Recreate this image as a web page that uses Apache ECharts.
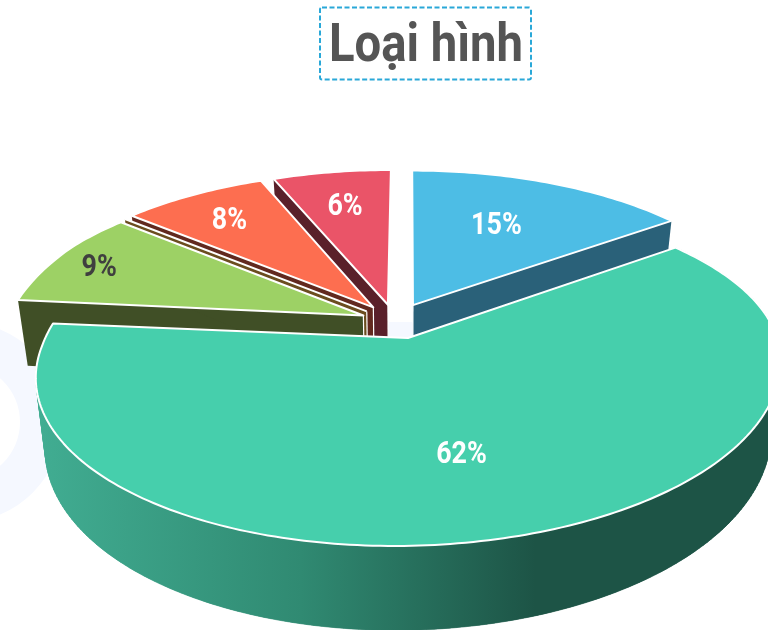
<!DOCTYPE html>
<html>
<head>
<meta charset="utf-8">
<style>
  html, body { margin: 0; padding: 0; background: #fff; }
  #main { width: 768px; height: 630px; }
</style>
<script src="https://cdn.jsdelivr.net/npm/echarts@6/dist/echarts.min.js"></script>
</head>
<body>
<div id="main"></div>
<script>
var chartTitle = 'Loại hình';
// clockwise from 12 o'clock; the 0 is the empty slice whose cut face shows as the brown stripe
var sliceNames = ['A', 'B', 'C', 'D', 'E', 'F'];
var sliceValues = [15, 62, 9, 0, 7.7, 6.3];

// look of each slice, same order as sliceValues
var topColors = ['#4dbde5', '#46cfac', '#9dd165', '#8c6a2a', '#fd6e50', '#ea5468'];
var wallColors = ['#2a6179', null, '#404f26', '#6b4d1f', '#62291f', '#5a202a'];
var labelColors = ['#fff', '#fff', '#3f3f3f', '#fff', '#fff', '#fff'];
var explodeU = [0.014, 0, -0.125, -0.116, -0.098, -0.057];
var explodeV = [0.2, 0, 0.14, 0.165, 0.19, 0.205];
var labelRadius = [0.6, 0.63, 0.85, 0, 0.8, 0.75];
var labelShiftX = [-4, -11, -4, 0, 4, 1];
var labelShiftY = [-2, 2, 3, 0, 6, 5];
// back slices first, the big one last
var paintOrder = [0, 5, 4, 3, 2, 1];

// pie projection: camera looks down, back of the disc gets smaller
var cx = 408, cy = 338, radiusX = 366, radiusY = 170, persp = 0.182;
var depth = 69, bottomScale = 0.975, tilt = 8;

function project(u, v, bottom) {
  var s = 1 / (1 + persp * v);
  // front of the disc leans a little, left side lower than right
  var lean = -tilt * u * Math.max(0, Math.min(1, (0.6 - v) / 0.6));
  return [
    cx + radiusX * u * s * (bottom ? bottomScale : 1),
    cy - radiusY * v * s + lean + (bottom ? depth * s : 0)
  ];
}

function arcPoints(i, from, to, bottom) {
  var pts = [];
  var n = Math.max(1, Math.ceil(Math.abs(to - from)));
  for (var k = 0; k <= n; k++) {
    var a = (from + (to - from) * k / n) * Math.PI / 180;
    pts.push(project(Math.sin(a) + explodeU[i], Math.cos(a) + explodeV[i], bottom));
  }
  return pts;
}

var total = sliceValues.reduce(function (a, b) { return a + b; }, 0);
var startAngles = [];
sliceValues.reduce(function (sum, v, i) {
  startAngles[i] = sum / total * 360;
  return sum + v;
}, 0);

var mainWall = {
  type: 'linear', x: 37, y: 0, x2: 770, y2: 0, global: true,
  colorStops: [
    { offset: 0, color: '#41ad92' },
    { offset: 0.36, color: '#308a72' },
    { offset: 0.68, color: '#1d5446' },
    { offset: 1, color: '#1d5446' }
  ]
};

function renderSlice(params, api) {
  var i = params.dataIndex;
  var value = api.value(1);
  var from = startAngles[i];
  var to = from + value / total * 360;
  var z = paintOrder.indexOf(i) * 10;
  var wallFill = wallColors[i] || mainWall;
  var wallStyle = { fill: wallFill };
  var apexTop = project(explodeU[i], explodeV[i], false);
  var apexBottom = project(explodeU[i], explodeV[i], true);

  function face(a) {
    var t = arcPoints(i, a, a, false)[0];
    var b = arcPoints(i, a, a, true)[0];
    return { type: 'polygon', z2: z + 1, shape: { points: [apexTop, t, b, apexBottom] }, style: wallStyle };
  }

  var children = [];
  if (i === 1) {
    // only the front slice shows its outer wall
    // strips give the silhouette at the sides, the whole outline on top hides their seams
    var topArc = arcPoints(i, from, to, false);
    var bottomArc = arcPoints(i, from, to, true);
    for (var k = 0; k < topArc.length - 1; k++) {
      children.push({
        type: 'polygon', z2: z,
        shape: { points: [topArc[k], topArc[k + 1], bottomArc[k + 1], bottomArc[k]] },
        style: { fill: wallFill, stroke: wallFill, lineWidth: 0.6 }
      });
    }
    children.push({
      type: 'polygon', z2: z,
      shape: { points: topArc.concat(bottomArc.slice().reverse()) },
      style: wallStyle
    });
  }
  // the faces along 12 o'clock are edge-on, only a sliver would show
  if (value > 0 && i !== 0) {
    children.push(face(from));
  }
  if (i !== 5) {
    children.push(face(to));
  }
  if (i !== 1) {
    // white seam where the cut face meets the next slice
    children.push({
      type: 'polyline', z2: z + 1,
      shape: { points: [apexTop, apexBottom] },
      style: { fill: null, stroke: '#fff', lineWidth: 1.2 }
    });
  }
  if (value > 0) {
    children.push({
      type: 'polygon', z2: z + 2,
      shape: { points: [apexTop].concat(arcPoints(i, from, to, false)) },
      style: { fill: topColors[i], stroke: '#fff', lineWidth: 2, lineJoin: 'round' }
    });
    var mid = (from + to) / 2 * Math.PI / 180;
    var lp = project(Math.sin(mid) * labelRadius[i] + explodeU[i], Math.cos(mid) * labelRadius[i] + explodeV[i], false);
    children.push({
      type: 'text', z2: 100, x: lp[0] + labelShiftX[i], y: lp[1] + labelShiftY[i], scaleX: 0.84, scaleY: 1,
      style: {
        text: Math.round(value) + '%', x: 0, y: 0, align: 'center', verticalAlign: 'middle',
        fill: labelColors[i], font: 'bold 32px Roboto'
      }
    });
  } else {
    children.push({
      type: 'polyline', z2: z + 2,
      shape: { points: [apexTop, arcPoints(i, from, from, false)[0]] },
      style: { fill: null, stroke: '#fff', lineWidth: 2 }
    });
  }
  return { type: 'group', children: children };
}

var chart = echarts.init(document.getElementById('main'));
chart.setOption({
  animation: false,
  backgroundColor: '#fff',
  graphic: [
    // pale logo behind the pie
    {
      type: 'ring', z: 0, silent: true,
      shape: { cx: -38, cy: 422, r: 100, r0: 58 },
      style: { fill: '#f5f8ff' }
    },
    {
      type: 'rect', z: 0, silent: true,
      shape: { x: 389, y: 322, width: 24, height: 20 },
      style: { fill: '#f5f8ff' }
    },
    {
      type: 'rect', z: 1, silent: true,
      shape: { x: 320, y: 7.5, width: 211, height: 72, r: 2 },
      style: { fill: null, stroke: '#2aa8d8', lineWidth: 2, lineDash: [5, 2.5] }
    },
    {
      type: 'text', z: 1, silent: true,
      x: 426, y: 47, scaleX: 0.875, scaleY: 1,
      style: {
        text: chartTitle, x: 0, y: 0, align: 'center', verticalAlign: 'middle',
        fill: '#555', font: 'bold 54px Roboto'
      }
    }
  ],
  series: [{
    type: 'custom',
    coordinateSystem: 'none',
    z: 5,
    clip: false,
    silent: true,
    renderItem: renderSlice,
    data: sliceValues.map(function (v, i) { return { name: sliceNames[i], value: [i, v] }; })
  }]
});
</script>
</body>
</html>
